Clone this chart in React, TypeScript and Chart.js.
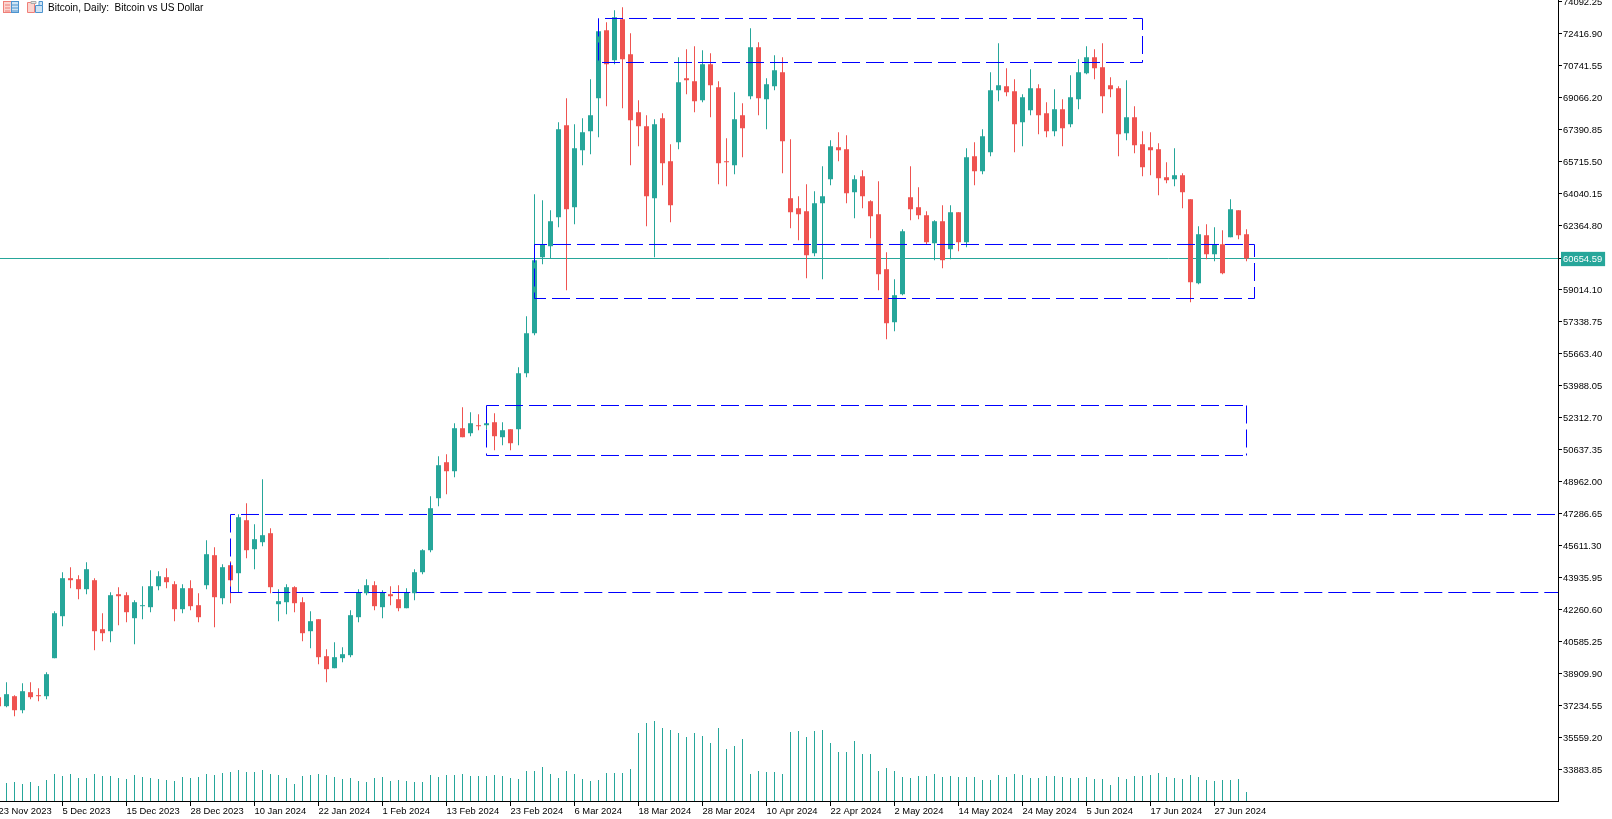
import React, { useEffect, useRef } from "react";
import { Chart, registerables } from "chart.js";

Chart.register(...registerables);

const GREEN = "#26a69a";
const RED = "#ef5350";
const BLUE = "#0000ff";

const title = "Bitcoin, Daily:  Bitcoin vs US Dollar";

const dateLabels = [
  "23 Nov 2023", "5 Dec 2023", "15 Dec 2023", "28 Dec 2023", "10 Jan 2024", "22 Jan 2024", "1 Feb 2024",
  "13 Feb 2024", "23 Feb 2024", "6 Mar 2024", "18 Mar 2024", "28 Mar 2024", "10 Apr 2024", "22 Apr 2024",
  "2 May 2024", "14 May 2024", "24 May 2024", "5 Jun 2024", "17 Jun 2024", "27 Jun 2024",
];
const barsPerDateLabel = 8;

const priceTicks = [
  74092.25, 72416.9, 70741.55, 69066.2, 67390.85, 65715.5, 64040.15, 62364.8, 60654.59, 59014.1, 57338.75,
  55663.4, 53988.05, 52312.7, 50637.35, 48962.0, 47286.65, 45611.3, 43935.95, 42260.6, 40585.25, 38909.9,
  37234.55, 35559.2, 33883.85,
];

const opens = [
  37687,
  37216, 37739, 37006, 37949, 37792, 37739, 39729, 41927, 43917, 43864,
  43341, 43812, 41247, 41142, 43079, 43027, 41823, 42451, 42399, 43498,
  43969, 43603, 42294, 43393, 42503, 43550, 45121, 42870, 44597, 44178,
  46953, 45435, 45801, 46272, 42556, 42660, 43446, 42660, 41142, 41770,
  39833, 39205, 39729, 39886, 41875, 43131, 43550, 42399, 43079, 42817,
  42346, 43131, 44230, 45382, 48104, 49989, 49518, 51769, 51507, 51926,
  51926, 52083, 51298, 51716, 51716, 54648, 56742, 60721, 61297, 62815,
  67631, 63339, 66322, 67317, 69045, 72604, 71034, 73180, 71348, 68312,
  67579, 63810, 67998, 65747, 66741, 70092, 69935, 68940, 70825, 69621,
  65747, 65537, 68155, 69149, 71715, 68992, 69673, 70406, 63810, 63286,
  63129, 60930, 63548, 64804, 66480, 66375, 64124, 64961, 63653, 62972,
  60093, 57318, 58784, 63862, 63339, 62920, 61454, 62606, 61140, 63077,
  61506, 66008, 65223, 66218, 69463, 69673, 69411, 67788, 68416, 69568,
  68259, 67317, 68469, 67684, 68992, 70353, 71191, 70668, 69725, 69568,
  67212, 68050, 66637, 66480, 66375, 64909, 64804, 65014, 63757, 59360,
  61873, 60878, 61402, 61768, 63181, 61925,
];

const highs = [
  37900,
  38472, 37792, 38420, 38472, 38158, 38996, 42189, 44231, 44493, 44074,
  44754, 43917, 42084, 43184, 43446, 43184, 42765, 43498, 44335, 44283,
  44440, 43760, 43603, 43812, 43131, 45906, 45540, 44650, 44807, 47267,
  47843, 46744, 49100, 46534, 43341, 43603, 43498, 42922, 42189, 41770,
  40200, 40566, 40305, 42241, 43341, 43864, 43760, 43288, 43498, 43550,
  43393, 44388, 45435, 48209, 50303, 50408, 52030, 52868, 52606, 52502,
  52100, 52554, 52083, 51716, 54962, 57632, 64019, 63705, 63181, 67788,
  69045, 67684, 67998, 70039, 72552, 73023, 73651, 73809, 72447, 68940,
  68155, 67945, 68259, 66637, 71191, 71610, 71767, 71557, 71400, 69935,
  66951, 69359, 68783, 72709, 71976, 70092, 71296, 71191, 66898, 63914,
  64543, 64176, 65485, 66846, 67265, 67108, 65014, 65275, 63705, 64700,
  60983, 59569, 62187, 65485, 64386, 63129, 62658, 63443, 63443, 63077,
  66427, 66741, 67422, 70406, 71924, 70615, 70039, 69254, 70563, 69778,
  68835, 69516, 68992, 70249, 71086, 71767, 71610, 71924, 70144, 69673,
  69987, 68626, 67317, 67265, 66689, 65694, 66427, 65118, 63757, 62344,
  62449, 62292, 62134, 63757, 63181, 62187,
];

const lows = [
  37100,
  37164, 36692, 36849, 37582, 37478, 37582, 39729, 41404, 43393, 42817,
  43079, 40147, 40619, 40566, 41456, 41613, 40462, 41770, 42137, 43288,
  43393, 41666, 42084, 42241, 41613, 43341, 41352, 42556, 42608, 43166,
  44964, 44388, 45592, 43131, 41666, 42032, 42137, 40619, 40252, 39415,
  38472, 39205, 39519, 39781, 41613, 43027, 42241, 41823, 42503, 42189,
  42346, 42765, 44126, 45277, 47685, 48314, 49204, 51298, 51350, 51664,
  51716, 50617, 50879, 50617, 50879, 54439, 56637, 60355, 60651, 62292,
  58993, 62449, 65537, 66113, 67003, 68626, 70825, 68521, 65537, 66532,
  62344, 60721, 64490, 62553, 66375, 69254, 68312, 68835, 68050, 64543,
  64438, 65066, 65956, 68992, 68155, 67422, 69463, 65118, 62239, 61611,
  59622, 60773, 59569, 64490, 65747, 63548, 62763, 63286, 61716, 58993,
  56428, 56847, 58732, 62658, 62710, 61402, 60564, 60145, 60616, 61035,
  61245, 64490, 65066, 66008, 68888, 69149, 66218, 66532, 68155, 67160,
  67003, 67055, 66532, 67527, 68469, 70301, 70039, 68259, 69097, 66008,
  66846, 66165, 64961, 65014, 63967, 64595, 64438, 63286, 58365, 59308,
  60616, 60512, 59831, 61768, 61663, 60512,
];

const closes = [
  37216,
  37844, 37006, 38001, 37687, 37739, 38891, 42084, 43917, 43812, 43341,
  44388, 41142, 41037, 43027, 42974, 42137, 42660, 42503, 43498, 44021,
  43707, 42294, 43393, 42451, 41875, 45173, 42922, 44493, 43812, 47110,
  45382, 45958, 46168, 43446, 42713, 43446, 42608, 41037, 41666, 39781,
  39153, 39781, 39938, 41980, 43184, 43550, 42451, 43184, 42974, 42346,
  43184, 44231, 45382, 47581, 49832, 49518, 51769, 51298, 52030, 51873,
  52030, 51350, 51664, 50983, 54648, 56742, 60563, 61384, 62606, 67422,
  63234, 66427, 67265, 68155, 72552, 70825, 73285, 71086, 67893, 67579,
  63914, 67684, 65642, 63443, 69882, 69987, 68888, 70825, 69725, 65642,
  65694, 67945, 67474, 71715, 69045, 69778, 70510, 66794, 63077, 62972,
  60826, 63548, 63914, 66532, 66322, 64071, 64804, 63914, 62867, 59831,
  57266, 58732, 62082, 63234, 62920, 61506, 62606, 60564, 63077, 61506,
  65956, 65223, 67055, 69463, 69725, 69359, 67684, 69097, 69568, 68155,
  67317, 68469, 67474, 69097, 70406, 71191, 70615, 69149, 69516, 67160,
  68050, 66584, 65433, 66322, 64857, 64752, 65014, 64124, 59412, 61925,
  60878, 61402, 59883, 63234, 61873, 60654.59,
];

const volumes = [
  18000,
  18000, 19000, 17000, 19000, 15000, 21000, 27000, 25000, 27000, 23000,
  23000, 27000, 25000, 25000, 23000, 22000, 26000, 24000, 23000, 22000,
  21000, 20000, 24000, 23000, 24000, 27000, 26000, 28000, 29000, 31000,
  29000, 29000, 31000, 27000, 26000, 23000, 17000, 25000, 26000, 27000,
  26000, 24000, 22000, 23000, 20000, 19000, 23000, 24000, 20000, 21000,
  20000, 19000, 19000, 26000, 24000, 26000, 26000, 27000, 25000, 25000,
  25000, 26000, 25000, 23000, 22000, 30000, 30000, 34000, 27000, 23000,
  30000, 27000, 22000, 20000, 21000, 28000, 28000, 28000, 32000, 68000,
  78000, 80000, 73000, 71000, 68000, 64000, 68000, 65000, 58000, 73000,
  52000, 55000, 62000, 27000, 30000, 29000, 29000, 27000, 69000, 70000,
  64000, 70000, 71000, 58000, 49000, 49000, 60000, 47000, 47000, 30000,
  33000, 30000, 24000, 23000, 25000, 25000, 27000, 24000, 25000, 24000,
  24000, 24000, 21000, 21000, 26000, 24000, 27000, 26000, 23000, 23000,
  25000, 25000, 24000, 23000, 23000, 24000, 22000, 22000, 16000, 24000,
  22000, 25000, 25000, 26000, 28000, 24000, 23000, 22000, 26000, 24000,
  21000, 20000, 21000, 21000, 22000, 9000,
];

// Zones: first bar, last bar, top price, bottom price
const zoneFirstBar = [75, 29, 67, 61];
const zoneLastBar = [143, 200, 157, 156];
const zoneTop = [73220, 47252, 61388, 52958];
const zoneBottom = [70916, 43168, 58560, 50341];

// Dash phase of each zone side (pixel offset within the 24px dash period)
const topPhase = [5, 1, 1, 1];
const bottomPhase = [2, 8.3, 0, 1];
const leftPhase = [18.5, 10.5, 4.5, 21.5];
const rightPhase = [12, 0, 23, 21.5];

const X_MIN = 0.1875;
const X_MAX = 194.9375;
const Y_MAX = 74188.4;
const Y_MIN = 32252;
const lastClose = closes[closes.length - 1];
const FONT = { family: '"Liberation Sans", Arial, sans-serif', size: 9.4 };

const barPx = (bar: number) => -1.5 + 8 * bar;
const pricePx = (p: number) => ((Y_MAX - p) / (Y_MAX - Y_MIN)) * 801;
const dashOffset = (start: number, phase: number) => (((start - phase) % 24) + 24) % 24;

function zoneSide(points: { x: number; y: number }[], offset: number) {
  return {
    type: "line" as const,
    data: points,
    borderColor: BLUE,
    borderWidth: 1,
    borderDash: [18, 6],
    borderDashOffset: offset,
    borderCapStyle: "butt" as const,
    pointRadius: 0,
    tension: 0,
    fill: false,
    order: 1,
    xAxisID: "x",
    yAxisID: "y",
  };
}

export default function App() {
  const ref = useRef<HTMLCanvasElement | null>(null);

  useEffect(() => {
    document.body.style.margin = "0";
    document.body.style.overflow = "hidden";
    const barX = opens.map((_, i) => i);
    const colors = opens.map((o, i) => (closes[i] >= o ? GREEN : RED));
    const barBase = {
      type: "bar" as const,
      grouped: false,
      borderWidth: 0,
      inflateAmount: 0,
      xAxisID: "x",
    };
    const zoneSets = zoneTop.flatMap((top, z) => {
      const a = zoneFirstBar[z];
      const b = zoneLastBar[z];
      const bot = zoneBottom[z];
      const sides = [
        zoneSide([{ x: a, y: top }, { x: b, y: top }], dashOffset(barPx(a), topPhase[z])),
        zoneSide([{ x: a, y: bot }, { x: b, y: bot }], dashOffset(barPx(a), bottomPhase[z])),
        zoneSide([{ x: a, y: top }, { x: a, y: bot }], dashOffset(pricePx(top), leftPhase[z])),
      ];
      if (b < X_MAX) {
        sides.push(zoneSide([{ x: b, y: top }, { x: b, y: bot }], dashOffset(pricePx(top), rightPhase[z])));
      }
      return sides;
    });

    const chart = new Chart(ref.current as HTMLCanvasElement, {
      type: "bar",
      data: {
        datasets: [
          {
            ...barBase,
            data: barX.map((x) => ({ x, y: volumes[x] })),
            backgroundColor: GREEN,
            barThickness: 1,
            yAxisID: "vol",
            order: 5,
          },
          {
            type: "line" as const,
            data: [
              { x: X_MIN, y: lastClose },
              { x: X_MAX, y: lastClose },
            ],
            borderColor: GREEN,
            borderWidth: 1,
            pointRadius: 0,
            order: 4,
            xAxisID: "x",
            yAxisID: "y",
          },
          {
            ...barBase,
            data: barX.map((x) => ({ x, y: [lows[x], highs[x]] })),
            backgroundColor: colors,
            barThickness: 1,
            yAxisID: "y",
            order: 3,
          },
          {
            ...barBase,
            data: barX.map((x) => ({ x, y: [opens[x], closes[x]] })),
            backgroundColor: colors,
            barThickness: 5,
            yAxisID: "y",
            order: 2,
          },
          ...zoneSets,
        ] as any,
      },
      options: {
        responsive: false,
        animation: false,
        devicePixelRatio: 1,
        layout: { padding: 0 },
        plugins: { legend: { display: false }, tooltip: { enabled: false }, title: { display: false } },
        scales: {
          x: {
            type: "linear",
            offset: false,
            min: X_MIN,
            max: X_MAX,
            afterBuildTicks: (s: any) => {
              s.ticks = dateLabels.map((_, i) => ({ value: i * barsPerDateLabel }));
            },
            afterFit: (s: any) => {
              s.height = 18;
              s.paddingLeft = 0;
              s.paddingRight = 0;
            },
            grid: { drawOnChartArea: false, offset: false, tickLength: 5, color: "#000", tickColor: "#000" },
            border: { color: "#000", width: 1 },
            ticks: {
              autoSkip: false,
              maxRotation: 0,
              minRotation: 0,
              align: "start",
              padding: 0,
              color: "#000",
              font: FONT,
              callback: (_: any, i: number) => dateLabels[i],
            },
          },
          y: {
            type: "linear",
            position: "right",
            min: Y_MIN,
            max: Y_MAX,
            afterBuildTicks: (s: any) => {
              s.ticks = priceTicks.map((value) => ({ value }));
            },
            afterFit: (s: any) => {
              s.width = 54;
              s.paddingTop = 0;
              s.paddingBottom = 0;
            },
            grid: { drawOnChartArea: false, tickLength: 4, color: "#000", tickColor: "#000" },
            border: { color: "#000", width: 1 },
            ticks: {
              autoSkip: false,
              padding: 1,
              labelOffset: 1,
              font: FONT,
              color: (c: any) => (c.tick?.value === lastClose ? "#fff" : "#000"),
              showLabelBackdrop: (c: any) => c.tick?.value === lastClose,
              backdropColor: GREEN,
              backdropPadding: { left: 2, right: 3, top: 2, bottom: 1 },
              callback: (v: any) => Number(v).toFixed(2),
            },
          },
          vol: { type: "linear", display: false, min: 0, max: 801000 },
        },
      } as any,
    });
    return () => chart.destroy();
  }, []);

  return (
    <div style={{ position: "fixed", left: 0, top: 0, width: 1612, height: 819, background: "#fff", overflow: "hidden" }}>
      <canvas ref={ref} width={1612} height={819} style={{ display: "block" }} />
      <svg width={44} height={16} style={{ position: "absolute", left: 2, top: 0 }}>
        <rect x={1.5} y={1.5} width={15} height={11} fill="#fbd5d0" stroke="#ef7f78" />
        <rect x={9.5} y={1.5} width={7} height={11} fill="#cfe4f5" stroke="#4d94cf" />
        <path d="M3 5h5M3 8h5M3 11h5" stroke="#ef7f78" />
        <path d="M10 5h6M10 8h6M10 11h6" stroke="#4d94cf" />
        <path d="M25.5 2.5h7v10h-7z" fill="#fbd5d0" stroke="#ef7f78" />
        <path d="M33.5 5.5h7v7h-7z" fill="#cfe4f5" stroke="#4d94cf" />
        <path d="M37 1.5h3.5v4H37z" fill="#cfe4f5" stroke="#4d94cf" />
        <path d="M29 1.5h5v2h-5z" fill="#e6e6e6" stroke="#aaa" />
      </svg>
      <div
        style={{
          position: "absolute",
          left: 48,
          top: 1,
          fontFamily: '"Liberation Sans", Arial, sans-serif',
          fontSize: 10.07,
          lineHeight: "14px",
          color: "#000",
          whiteSpace: "pre",
        }}
      >
        {title}
      </div>
    </div>
  );
}
